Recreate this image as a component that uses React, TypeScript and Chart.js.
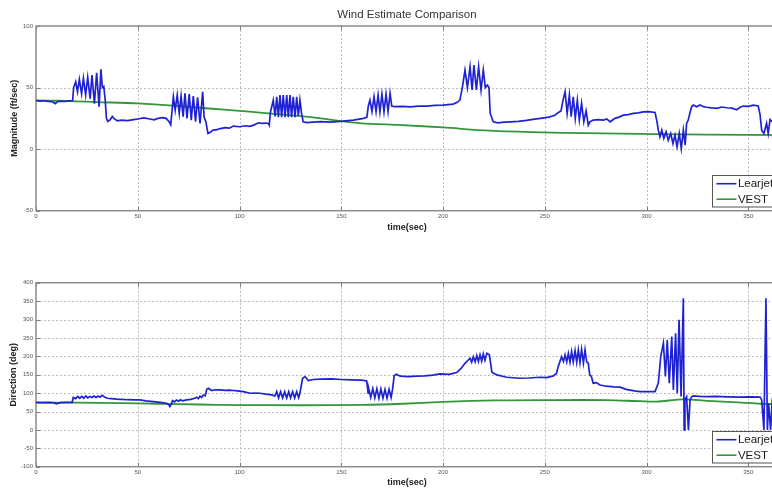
import React, { useEffect, useRef } from "react";
import { Chart, registerables } from "chart.js";

Chart.register(...registerables);

// ---------- DATA ----------
const xTicks = [0, 50, 100, 150, 200, 250, 300, 350];
const magTicks = [-50, 0, 50, 100];
const dirTicks = [-100, -50, 0, 50, 100, 150, 200, 250, 300, 350, 400];
const seriesNames = ["Learjet", "VEST"];

// Magnitude (ft/sec) – Learjet
const magTime = [
  0, 2, 4, 6, 8, 9.5, 10.5, 12, 14, 16, 18, 18.5, 19.5, 20.4, 21.3, 22.4, 23.3, 24.4, 25.4, 26.6,
  27.5, 28.7, 29.8, 31, 31.9, 32.6, 33.3, 34, 34.6, 35.3, 36.5, 37.5, 38.5, 40, 42, 45, 48, 50, 53, 56,
  58, 60, 62, 64, 65.5, 66.2, 66.8, 67.5, 68.4, 69.4, 70.4, 71.3, 72.3, 73.2, 74.2, 75.3, 76.3, 77.3, 78.4, 79.4,
  80.6, 81.9, 82.6, 83.5, 84.5, 85.5, 87, 89, 90, 93, 95, 97, 100, 103, 105, 107, 109.3, 111, 113, 114.2,
  114.6, 115.2, 116.6, 117.5, 118.3, 119.1, 119.9, 120.7, 121.5, 122.4, 123.2, 124, 124.8, 125.6, 126.4, 127.3, 128.1, 128.9, 129.7, 130.5,
  131.3, 133, 136, 140, 145, 151, 156, 161, 162.6, 163.3, 164.1, 165.1, 166.1, 167.1, 168.1, 169, 170, 171, 172, 173,
  174, 174.8, 176, 180, 183.8, 188, 192, 196, 200, 205, 207, 208.3, 209.5, 210.8, 212, 213.3, 214.3, 215.2, 216.4, 217.5,
  218.7, 219.8, 220.8, 221.8, 222.6, 223.2, 224.7, 227, 230, 233, 237, 241, 245, 248, 252, 255, 256.7, 258, 259, 260,
  261, 262.1, 263, 264, 265, 266, 267, 268.1, 269.2, 270.3, 271.4, 272.2, 273.8, 276.3, 278.8, 280.5, 282.1, 284.5, 286.5, 288.6,
  291, 293.5, 296, 298.4, 301, 304.2, 305.2, 305.8, 306.6, 307.5, 308.5, 309.6, 310.7, 311.9, 313, 314, 315, 316.1, 317.1, 318.1,
  319, 319.7, 320.5, 321.4, 322.2, 323, 324.6, 326.3, 328, 329.5, 332, 334.5, 337, 339.4, 342, 344.3, 346, 347.6, 350, 352.5,
  354.9, 355.8, 356.6, 357.7, 359, 359.8, 360.7, 362, 364, 366, 369.5,
];
const magLearjet = [
  39.5, 39, 39.3, 38.8, 38.5, 37, 38.5, 39, 38.7, 39.2, 39.5, 50, 54.7, 46.6, 56.6, 45, 57.5, 44, 58.3, 41,
  60.2, 37, 62, 34.4, 64.8, 50, 51, 40, 25, 22.5, 24, 26.5, 24.5, 23, 23.5, 23.2, 24, 24.5, 25.3, 24.5,
  23.8, 25, 25.5, 25, 22, 19.8, 30, 42.5, 31.7, 43.9, 29, 43.1, 26.3, 45.3, 25, 44.7, 23.6, 43.1, 22.2, 42,
  20.9, 46.6, 26, 22, 12.7, 13.5, 15.4, 15.8, 16.5, 17.5, 17, 18.7, 18.2, 19, 18.5, 19.5, 21.4, 20.9, 21.2, 20.9,
  19.5, 30, 39.8, 26.5, 42.5, 26, 43.9, 26, 43.9, 26, 43.9, 26, 43.9, 26, 42.5, 26, 42.5, 27, 39.8, 29,
  22.2, 21.5, 22, 22.3, 22, 22.7, 23.6, 25, 26, 35, 39.8, 30.5, 42.5, 30.5, 43.9, 30.3, 44.7, 30.3, 44.7, 30.5,
  45.3, 35, 34.6, 34.8, 34.4, 35, 35, 35.5, 35.8, 36.6, 38, 39.8, 50, 64.2, 50, 66.9, 48, 68.3, 48, 66.9,
  48, 64.2, 50, 52, 50, 29, 22.2, 21.4, 22, 22.2, 22.6, 23.3, 24.3, 25, 26, 27.5, 29.8, 31, 40, 46.6,
  29, 43.9, 26.3, 42.5, 25, 39.8, 23.6, 37.2, 22.2, 31.1, 19.5, 22.2, 23.6, 24, 23.6, 24.5, 22.2, 25, 26, 27.6,
  28, 29, 29.5, 30.3, 30.5, 29.8, 22, 15.4, 10, 15.4, 8.7, 14.1, 7.3, 12.7, 4.6, 11.4, 1.9, 12.7, 0.5, 15.4,
  3.3, 20.9, 23.6, 30, 34.4, 35.8, 34.4, 35.8, 34.5, 34, 33.5, 33.1, 34.2, 33.6, 33.3, 32, 34, 35, 34.8, 35.8,
  35, 28, 15.4, 12.7, 20.9, 12.7, 24, 22, 26, 25, 25,
];

// Magnitude (ft/sec) – VEST
const magVestTime = [0, 10, 20, 30, 50, 70, 85, 100, 110, 130, 140, 151, 160, 180, 200, 223, 248, 270, 305, 330, 369.5];
const magVest = [39.5, 39.3, 38.8, 38.2, 37.1, 35, 33, 31.1, 29.7, 26.8, 25, 22.5, 21, 19.5, 17.6, 15, 13.6, 13, 12.2, 11.8, 11.3];

// Direction (deg) – Learjet
const dirTime = [
  0, 3, 6, 9, 10, 12, 15, 17.8, 18.3, 19.5, 20.5, 21.5, 22.5, 23.5, 24.5, 25.5, 26.5, 27.5, 28.5, 29.5,
  30.5, 31.5, 32.5, 33.5, 35, 37, 39.6, 42, 45, 47.8, 51, 54, 57.7, 61, 64.2, 65.3, 65.8, 66.5, 67.1, 68,
  69, 70, 71, 72, 74, 76, 78, 79, 79.8, 80.6, 81.4, 82.2, 83.2, 83.9, 84.7, 86.3, 88, 90.4, 93, 95,
  97, 99, 101.9, 105.2, 108, 110, 113, 115.8, 117.4, 118.3, 119.2, 120.2, 121.2, 122.2, 123.2, 124.2, 125.1, 126.1, 127.1, 128.1,
  129.1, 129.7, 131, 132.2, 133.8, 136.3, 140, 145, 150, 155, 160, 162.5, 163.2, 163.5, 164.5, 165.5, 166.5, 167.5, 168.5, 169.5,
  170.5, 171.5, 172.5, 173.5, 174.5, 175.2, 176, 177, 179, 183, 187, 191, 195, 198.5, 203, 206.7, 209, 210.8, 212.4, 213.3,
  214.1, 214.9, 215.8, 216.6, 217.4, 218.2, 219, 219.8, 220.6, 221.5, 222.8, 223.4, 224, 224.8, 226.5, 231.3, 237.8, 242, 247.7, 251,
  254.2, 255.8, 256.6, 258.3, 259.2, 260, 260.8, 261.6, 262.4, 263.2, 264, 264.9, 265.7, 266.5, 267.3, 268.1, 269, 269.8, 270.6, 271.4,
  272.1, 272.9, 273.8, 275.4, 277.1, 280.3, 284, 287, 290, 294, 296.8, 300, 304.2, 305.8, 307, 308.3, 309.3, 310.2, 311.2, 312.4,
  313.2, 314.3, 315.1, 316, 317, 318.1, 318.5, 318.9, 319.7, 320.6, 321.4, 322.2, 323, 326, 329.6, 334, 340, 346, 351, 355.8,
  356.6, 357.7, 358.7, 359.4, 360, 361, 361.7, 363, 366, 369.5,
];
const dirLearjet = [
  75, 74, 75, 73.5, 71, 74, 75, 75, 88, 85, 91, 86, 91, 86, 92, 87, 91, 88, 92, 88,
  92, 89, 94, 90, 86, 85, 83.4, 83, 82, 81.5, 81.5, 79, 77, 75, 72.5, 68, 63.4, 70, 79.7, 76,
  81, 78, 82, 79, 81.5, 83, 86, 88.8, 85, 92, 88, 95, 93, 110.5, 113, 107, 109, 108.7, 107.5, 108,
  107, 106, 104, 99.6, 100, 99.6, 97, 95, 92, 104, 87, 104, 87, 104, 87, 104, 87, 104, 87, 104,
  88, 100, 140.4, 145, 134, 137, 138, 138.5, 137, 136, 135, 133, 100, 112, 88, 112, 87, 112, 86, 111,
  86, 110, 86, 110, 88, 110, 147, 151, 146, 145, 146, 147, 149, 152, 151, 155.8, 167.6, 181, 190, 195,
  184, 199, 185, 202, 186, 204, 187, 206.5, 189, 208.4, 204, 181, 158, 154, 149.5, 143, 140.4, 141, 143, 142,
  146.7, 154, 172, 199, 186, 204, 185, 208, 184, 213, 185, 215.6, 184, 217.4, 183, 219, 182, 217.4, 185, 181,
  149.5, 145.8, 127, 128.5, 122, 118.7, 117, 116, 110, 106, 104, 104, 104, 127, 199, 235.5, 145, 244.6, 127, 253.6,
  108.7, 262.7, 99.6, 299, 90.6, 358, 0, 81.5, 90, 0, 81.5, 90, 92.4, 91, 90.6, 91, 90, 89, 89.5, 89,
  81.5, 0, 358, 0, 72.5, 0, 72.5, 40, 60, 62,
];

// Direction (deg) – VEST
const dirVestTime = [0, 20, 41, 60, 80, 100, 130, 160, 180, 200, 225, 250, 280, 297, 305, 318, 330, 345, 356, 369.5];
const dirVest = [74, 74, 73, 71, 69, 67.5, 67, 68, 71, 76, 80, 81, 81, 78, 77, 83, 79, 75, 71, 70];

// ---------- STYLE ----------
const BLUE = "#1f22d2";
const GREEN = "#34963a";
const CANVAS_W = 792;
const X_MAX = 369.5;
const PX_PER_UNIT = 2.035;
const FONT = "'Liberation Sans', Arial, sans-serif";

const decorPlugin = {
  id: "panelDecor",
  beforeDatasetsDraw(chart: any, _args: any, o: any) {
    const { ctx, chartArea: a, scales } = chart;
    const xs = scales.x;
    const ys = scales.y;
    ctx.save();
    ctx.lineWidth = 1;
    ctx.strokeStyle = "#bdbdbd";
    ctx.setLineDash([2, 2]);
    o.xTicks.forEach((v: number) => {
      const p = Math.round(xs.getPixelForValue(v)) + 0.5;
      if (p <= a.left + 1 || p >= a.right - 1) return;
      ctx.beginPath();
      ctx.moveTo(p, a.top);
      ctx.lineTo(p, a.bottom);
      ctx.stroke();
    });
    o.yTicks.forEach((v: number) => {
      const p = Math.round(ys.getPixelForValue(v)) + 0.5;
      if (p <= a.top + 1 || p >= a.bottom - 1) return;
      ctx.beginPath();
      ctx.moveTo(a.left, p);
      ctx.lineTo(a.right, p);
      ctx.stroke();
    });
    ctx.setLineDash([]);
    ctx.strokeStyle = "#7d7d7d";
    o.xTicks.forEach((v: number) => {
      const p = Math.round(xs.getPixelForValue(v)) + 0.5;
      ctx.beginPath();
      ctx.moveTo(p, a.bottom);
      ctx.lineTo(p, a.bottom - 4);
      ctx.moveTo(p, a.top);
      ctx.lineTo(p, a.top + 4);
      ctx.stroke();
    });
    o.yTicks.forEach((v: number) => {
      const p = Math.round(ys.getPixelForValue(v)) + 0.5;
      ctx.beginPath();
      ctx.moveTo(a.left, p);
      ctx.lineTo(a.left + 4, p);
      ctx.moveTo(a.right, p);
      ctx.lineTo(a.right - 4, p);
      ctx.stroke();
    });
    ctx.lineWidth = 1.5;
    ctx.strokeStyle = "#8a8a8a";
    ctx.strokeRect(a.left, a.top, a.right - a.left, a.bottom - a.top);
    ctx.restore();
  },
  afterDraw(chart: any, _args: any, o: any) {
    const { ctx, chartArea: a } = chart;
    ctx.save();
    if (o.title) {
      ctx.font = `11.5px ${FONT}`;
      ctx.fillStyle = "#333";
      ctx.textAlign = "center";
      ctx.textBaseline = "middle";
      ctx.fillText(o.title, o.titleX, o.titleY);
    }
    ctx.font = `bold 9px ${FONT}`;
    ctx.fillStyle = "#222";
    ctx.textAlign = "center";
    ctx.textBaseline = "middle";
    ctx.fillText(o.xLabel, o.xLabelX, o.xLabelY);
    ctx.save();
    ctx.translate(o.yLabelX, (a.top + a.bottom) / 2);
    ctx.rotate(-Math.PI / 2);
    ctx.fillText(o.yLabel, 0, 0);
    ctx.restore();

    // legend box (lower right, inside axes)
    const lw = 72;
    const lh = 31.5;
    const lx = a.right - 4 - lw;
    const ly = a.bottom - 4 - lh;
    ctx.fillStyle = "#fff";
    ctx.fillRect(lx, ly, lw, lh);
    ctx.lineWidth = 1;
    ctx.strokeStyle = "#555";
    ctx.strokeRect(Math.round(lx) + 0.5, Math.round(ly) + 0.5, lw, lh);
    const colors = [BLUE, GREEN];
    const rows = [ly + 8.5, ly + 24];
    o.names.forEach((n: string, i: number) => {
      ctx.strokeStyle = colors[i];
      ctx.lineWidth = 1.6;
      ctx.beginPath();
      ctx.moveTo(lx + 4.5, rows[i]);
      ctx.lineTo(lx + 24.5, rows[i]);
      ctx.stroke();
      ctx.fillStyle = "#1a1a1a";
      ctx.font = `11.5px ${FONT}`;
      ctx.textAlign = "left";
      ctx.textBaseline = "middle";
      ctx.fillText(n, lx + 26, rows[i] + 0.5);
    });
    ctx.restore();
  },
};

type PanelProps = {
  height: number;
  padTop: number;
  xAxisH: number;
  yMin: number;
  yMax: number;
  yTicks: number[];
  yLabel: string;
  yLabelX: number;
  xLabelY: number;
  title?: string;
  t1: number[];
  v1: number[];
  t2: number[];
  v2: number[];
};

function Panel(p: PanelProps) {
  const ref = useRef<HTMLCanvasElement | null>(null);
  useEffect(() => {
    if (!ref.current) return;
    const chart = new Chart(ref.current, {
      type: "line",
      data: {
        datasets: [
          {
            label: seriesNames[0],
            data: p.t1.map((t, i) => ({ x: t, y: p.v1[i] })),
            borderColor: BLUE,
            borderWidth: 1.7,
            pointRadius: 0,
            tension: 0,
          },
          {
            label: seriesNames[1],
            data: p.t2.map((t, i) => ({ x: t, y: p.v2[i] })),
            borderColor: GREEN,
            borderWidth: 1.8,
            pointRadius: 0,
            tension: 0.3,
          },
        ],
      },
      options: {
        animation: false,
        responsive: false,
        maintainAspectRatio: false,
        devicePixelRatio: 1,
        layout: { padding: { left: 0, right: CANVAS_W - (36 + X_MAX * PX_PER_UNIT), top: p.padTop, bottom: 0 } },
        plugins: {
          legend: { display: false },
          tooltip: { enabled: false },
          panelDecor: {
            title: p.title,
            titleX: 407,
            titleY: 15,
            xLabel: "time(sec)",
            xLabelX: 407,
            xLabelY: p.xLabelY,
            yLabel: p.yLabel,
            yLabelX: p.yLabelX,
            xTicks,
            yTicks: p.yTicks,
            names: seriesNames,
          },
        } as any,
        scales: {
          x: {
            type: "linear",
            min: 0,
            max: X_MAX,
            grid: { display: false, drawTicks: false },
            border: { display: false },
            afterBuildTicks: (s: any) => {
              s.ticks = xTicks.map((v) => ({ value: v }));
            },
            afterFit: (s: any) => {
              s.height = p.xAxisH;
            },
            ticks: {
              autoSkip: false,
              maxRotation: 0,
              padding: 2,
              color: "#555",
              font: { family: FONT, size: 6 },
            },
          },
          y: {
            type: "linear",
            min: p.yMin,
            max: p.yMax,
            grid: { display: false, drawTicks: false },
            border: { display: false },
            afterBuildTicks: (s: any) => {
              s.ticks = p.yTicks.map((v) => ({ value: v }));
            },
            afterFit: (s: any) => {
              s.width = 36;
            },
            ticks: {
              padding: 3,
              color: "#555",
              font: { family: FONT, size: 6 },
            },
          },
        },
      },
      plugins: [decorPlugin],
    });
    return () => chart.destroy();
  }, []);
  return (
    <canvas
      ref={ref}
      width={CANVAS_W}
      height={p.height}
      style={{ display: "block", width: CANVAS_W, height: p.height }}
    />
  );
}

export default function App() {
  return (
    <div
      style={{
        position: "absolute",
        left: 0,
        top: 0,
        width: 772,
        height: 491,
        overflow: "hidden",
        background: "#fff",
      }}
    >
      <Panel
        height={245}
        padTop={26}
        xAxisH={34.3}
        yMin={-50}
        yMax={100}
        yTicks={magTicks}
        yLabel="Magnitude (ft/sec)"
        yLabelX={15}
        xLabelY={227.7}
        title="Wind Estimate Comparison"
        t1={magTime}
        v1={magLearjet}
        t2={magVestTime}
        v2={magVest}
      />
      <Panel
        height={246}
        padTop={37.7}
        xAxisH={24.3}
        yMin={-100}
        yMax={400}
        yTicks={dirTicks}
        yLabel="Direction (deg)"
        yLabelX={13.5}
        xLabelY={238}
        t1={dirTime}
        v1={dirLearjet}
        t2={dirVestTime}
        v2={dirVest}
      />
    </div>
  );
}
